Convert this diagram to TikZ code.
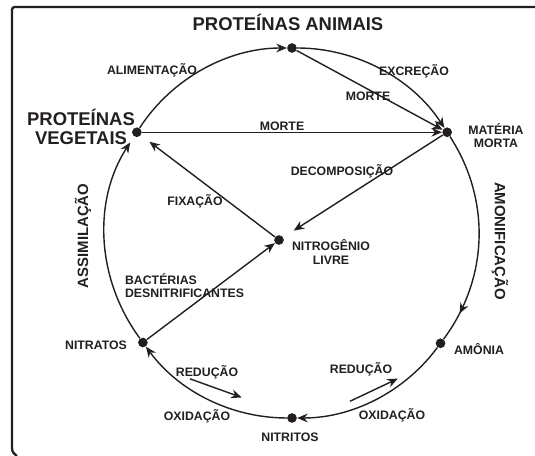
\documentclass[tikz,border=0pt]{standalone}
\usepackage{fontspec}
\setmainfont{Liberation Sans}
\usetikzlibrary{calc,arrows.meta,decorations.markings}
\definecolor{tinta}{RGB}{35,31,32}

\begin{document}
\begin{tikzpicture}[x=0.02cm,y=0.02cm,color=tinta,
    linha/.style={line width=0.8pt},
    seta/.style={linha,-{Stealth[length=6pt,width=5pt]}},
    meio/.style={linha,postaction={decorate},
      decoration={markings,mark=at position 0.86 with {\arrow{Stealth[length=6pt,width=5pt]}}}},
    ponto/.style={circle,fill,inner sep=0pt,minimum size=5.5pt},
    rot/.style={font=\fontsize{7}{7.5}\selectfont\bfseries,inner sep=1pt,align=center},
    rotv/.style={font=\fontsize{8.5}{9}\selectfont\bfseries,inner sep=1pt},
    rotgr/.style={font=\fontsize{10.5}{11}\selectfont\bfseries,inner sep=0pt,align=center}]
    \useasboundingbox (0,0) rectangle (535,456);

    % Moldura
    \draw[line width=1.3pt] (535,449) -- (18,449) .. controls (12,449) .. (12,443)
        -- (12,12) .. controls (12,4) .. (17,0);

    % Centro do ciclo
    \coordinate (O) at (292,223);

    % Pontos do ciclo
    \node[ponto] (PA) at ($(O)+(90:185)$) {};
    \node[ponto] (MO) at ($(O)+(33:185)$) {};
    \node[ponto] (AM) at ($(O)+(-36.6:185)$) {};
    \node[ponto] (NI) at ($(O)+(-90:185)$) {};
    \node[ponto] (NA) at ($(O)+(216.3:185)$) {};
    \node[ponto] (PV) at ($(O)+(147:185)$) {};
    \node[ponto] (NL) at (279,216) {};

    % Arcos do ciclo
    \draw[seta] (PV) to[out=57,in=180,looseness=0.9] (PA);
    \draw[seta] (PA) to[out=0,in=123,looseness=0.9] (MO);
    \draw[meio] (MO) to[out=-57,in=53.4,looseness=0.95] (AM);
    \draw[seta] (AM) to[out=-126.6,in=0,looseness=0.9] (NI);
    \draw[seta] (NI) to[out=180,in=306.3,looseness=0.9] (NA);
    \draw[seta,shorten >=4pt] (NA) to[out=126.3,in=237,looseness=0.95] (PV);

    % Ligacoes internas
    \draw[seta] (PA) -- (MO);
    \draw[seta] (PV) -- (MO);
    \draw[seta,shorten >=7pt] (MO) -- (NL);
    \draw[seta,shorten >=6pt] (NL) -- (PV);
    \draw[seta] (NA) -- (NL);

    % Setas de reducao
    \coordinate (r1) at ($(O)+(235:178)$);
    \coordinate (r2) at ($(O)+(253:172)$);
    \draw[seta] (r1) -- (r2);
    \coordinate (r3) at ($(O)+(289:178)$);
    \coordinate (r4) at ($(O)+(306:180)$);
    \draw[seta] (r3) -- (r4);

    % Rotulos
    \node[rotgr] (tPA) at (288,434) {PROTEÍNAS ANIMAIS};
    \node[rotgr] (tPV) at (81,329) {PROTEÍNAS\\VEGETAIS};
    \node[rot] (tMO) at (496,320) {MATÉRIA\\MORTA};
    \node[rot] (tNL) at (331,204) {NITROGÊNIO\\LIVRE};
    \node[rot] (tAM) at (479,107) {AMÔNIA};
    \node[rot] (tNI) at (290,19) {NITRITOS};
    \node[rot] (tNA) at (96,111) {NITRATOS};

    \node[rot] (lAli) at (152,386) {ALIMENTAÇÃO};
    \node[rot] (lExc) at (414,385) {EXCREÇÃO};
    \node[rot] (lMo1) at (368,360) {MORTE};
    \node[rot] (lMo2) at (282,330) {MORTE};
    \node[rot] (lDec) at (342,285) {DECOMPOSIÇÃO};
    \node[rot] (lFix) at (195,255) {FIXAÇÃO};
    \node[rot,anchor=west,align=left] (lDes) at (123,170) {BACTÉRIAS\\DESNITRIFICANTES};
    \node[rotv,rotate=90] (lAss) at (83,220) {ASSIMILAÇÃO};
    \node[rotv,rotate=-90] (lAmo) at (500,215) {AMONIFICAÇÃO};
    \node[rot] (lRe1) at (207,84) {REDUÇÃO};
    \node[rot] (lOx1) at (197,40) {OXIDAÇÃO};
    \node[rot] (lRe2) at (361,87) {REDUÇÃO};
    \node[rot] (lOx2) at (392,41) {OXIDAÇÃO};
\end{tikzpicture}
\end{document}
